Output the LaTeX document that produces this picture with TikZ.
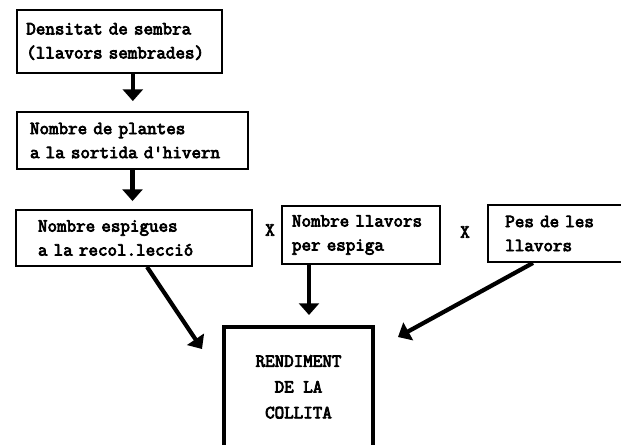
\documentclass[tikz,border=0pt]{standalone}
\usepackage{fontspec}
\newfontfamily\typewriter{Latin Modern Mono}[FakeBold=4]
\usetikzlibrary{arrows.meta}
\tikzset{
  stage/.style={draw, line width=1.6pt, align=left,
    font=\typewriter\fontsize{15.8}{20.5}\selectfont},
  result/.style={draw, line width=3.4pt, align=center,
    font=\typewriter\fontsize{15.8}{22}\selectfont},
  flow/.style={line width=3.6pt, -{Triangle[width=17pt,length=10pt]}},
  times/.style={font=\typewriter\fontsize{15.8}{17}\selectfont}
}
\begin{document}
\begin{tikzpicture}[x=0.03cm, y=-0.03cm]
  \useasboundingbox (0,0) rectangle (621,444);
  % Kaesten oben
  \node[stage, text width=5.59cm, inner xsep=0.28cm, minimum height=1.89cm]
    (seed) at (119.5,41.5) {Densitat de sembra\\(llavors sembrades)};
  \node[stage, text width=6.15cm, inner xsep=0.39cm, minimum height=1.71cm]
    (plants) at (132.5,140.5) {Nombre de plantes\\a la sortida d'hivern};
  % Komponenten
  \node[stage, text width=5.76cm, inner xsep=0.66cm, minimum height=1.68cm]
    (ears) at (134,238) {Nombre espigues\\a la recol.lecció};
  \node[stage, text width=4.14cm, inner xsep=0.3cm, minimum height=1.74cm]
    (grains) at (361,235) {Nombre llavors\\per espiga};
  \node[stage, text width=2.98cm, inner xsep=0.52cm, minimum height=1.71cm]
    (weight) at (555,233.5) {Pes de les\\llavors};
  \node[times] (times1) at (270,230) {X};
  \node[times] (times2) at (465,232) {X};
  % Ertrag
  \node[result, minimum width=4.47cm, minimum height=3.6cm]
    (yield) at (298.5,387) {RENDIMENT\\DE LA\\COLLITA};
  % Pfeile
  \coordinate (tip1) at (202,349);
  \coordinate (tip2) at (309,315);
  \coordinate (tip3) at (398,337);
  \draw[flow, shorten >=0.3cm] ([xshift=0.4cm]seed.south) -- ([xshift=0.4cm]seed.south |- plants.north);
  \draw[flow, shorten >=0.24cm] (plants.south) -- (plants.south |- ears.north);
  \draw[flow] ([xshift=0.39cm]ears.south) -- (tip1);
  \draw[flow] (grains.south -| tip2) -- (tip2);
  \draw[flow] ([xshift=-0.66cm]weight.south) -- (tip3);
\end{tikzpicture}
\end{document}
